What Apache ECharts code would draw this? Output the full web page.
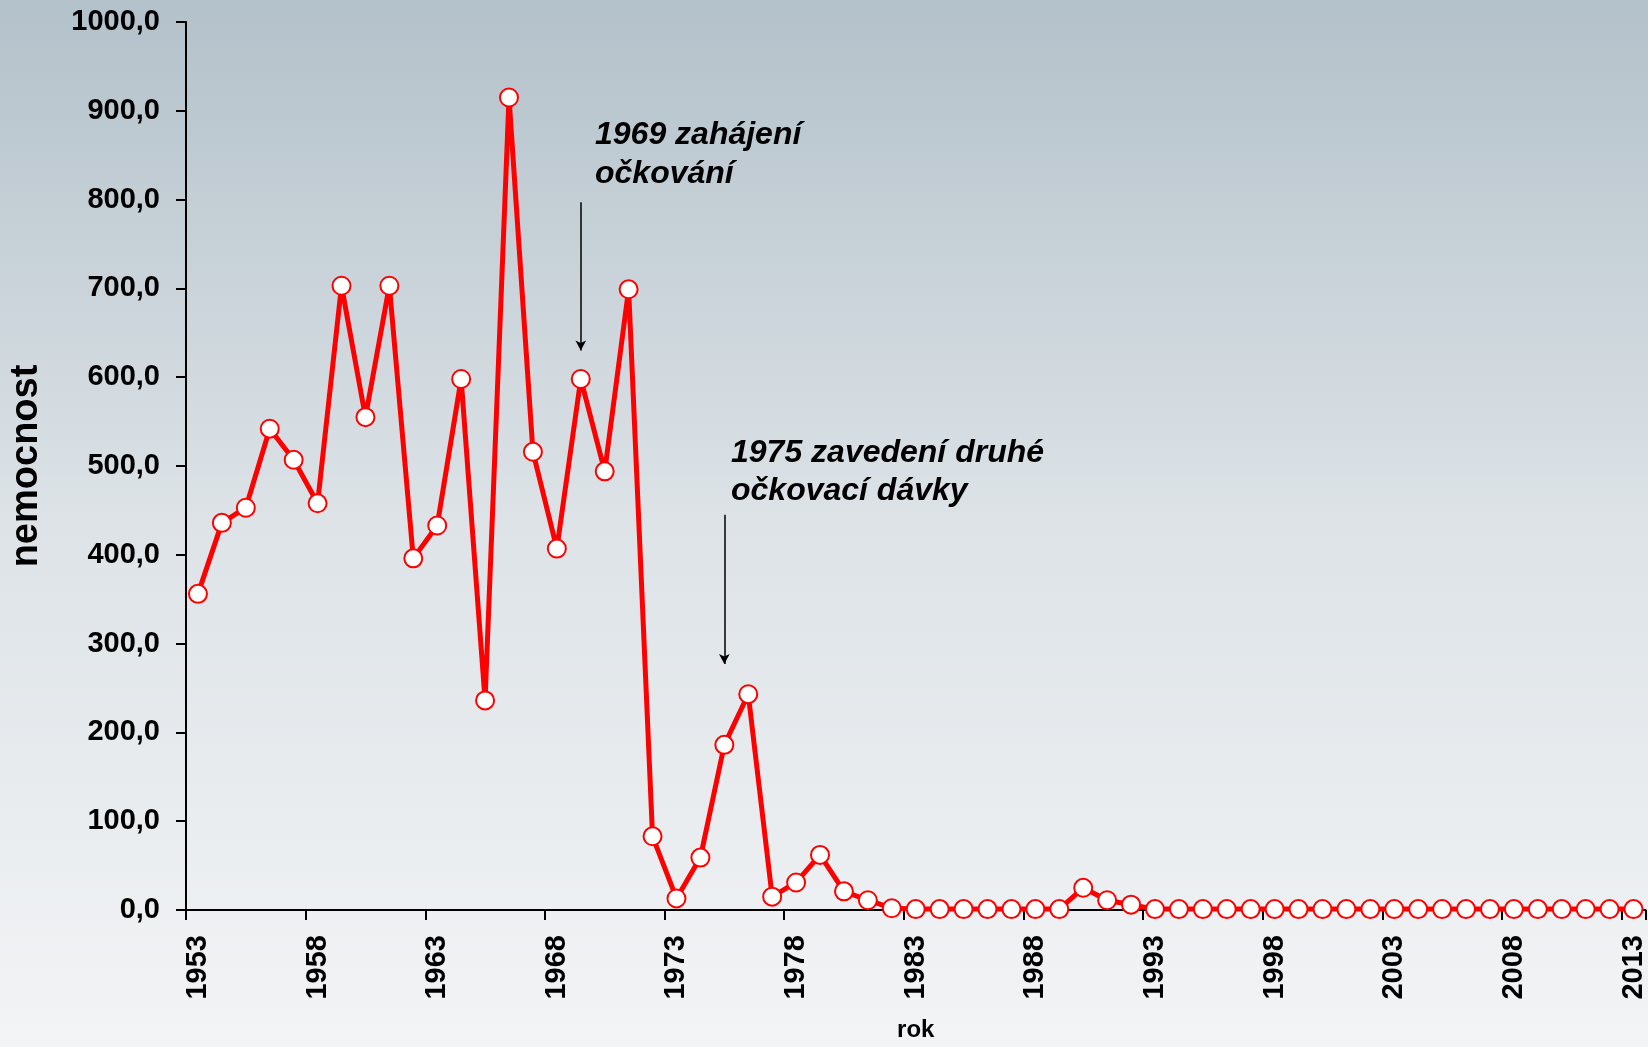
<!DOCTYPE html>
<html>
<head>
<meta charset="utf-8">
<script src="https://cdn.jsdelivr.net/npm/echarts@6/dist/echarts.min.js"></script>
<style>
html,body{margin:0;padding:0;width:1648px;height:1047px;overflow:hidden;}
#c{width:1648px;height:1047px;}
</style>
</head>
<body>
<div id="c"></div>
<script>
const years = [];
for (let y = 1953; y <= 2013; y++) years.push(String(y));

const nemocnost = [
  356, 436, 453, 542, 507, 458, 703, 555, 703, 396,
  433, 598, 236, 915, 516, 407, 598, 494, 699, 83,
  13, 59, 186, 243, 15, 31, 62, 21, 11, 2,
  1, 1, 1, 1, 1, 1, 1, 25, 11, 6,
  1, 1, 1, 1, 1, 1, 1, 1, 1, 1,
  1, 1, 1, 1, 1, 1, 1, 1, 1, 1,
  1
];

const yTicks = { min: 0, max: 1000, interval: 100 };
const annotations = [
  { year: '1969', from: 797, to: 630, lines: ['1969 zahájení', 'očkování'] },
  { year: '1975', from: 445, to: 277, lines: ['1975 zavedení druhé', 'očkovací dávky'] }
];

const FONT = "'Liberation Sans', Arial, sans-serif";
const chart = echarts.init(document.getElementById('c'), null, { renderer: 'canvas' });

const textGraphics = [];
const textPos = [
  { x: 595, y: [136, 175] },
  { x: 731, y: [454, 492] }
];
annotations.forEach((a, i) => {
  a.lines.forEach((ln, j) => {
    textGraphics.push({
      type: 'text',
      left: textPos[i].x,
      top: textPos[i].y[j] - 17,
      style: {
        text: ln,
        fill: '#000',
        font: "italic bold 32px " + FONT
      }
    });
  });
});

chart.setOption({
  animation: false,
  backgroundColor: {
    type: 'linear', x: 0, y: 0, x2: 0, y2: 1,
    colorStops: [
      { offset: 0, color: '#b3c1ca' },
      { offset: 0.5, color: '#dde3e7' },
      { offset: 1, color: '#f3f4f6' }
    ]
  },
  grid: { left: 185, right: 2, top: 22, bottom: 133, containLabel: false },
  xAxis: {
    type: 'category',
    data: years,
    boundaryGap: true,
    name: 'rok',
    nameLocation: 'middle',
    nameGap: 108,
    nameTextStyle: { fontFamily: FONT, fontWeight: 'bold', fontSize: 24, color: '#000' },
    axisLine: { lineStyle: { color: '#000', width: 2 } },
    axisTick: { show: true, interval: 4, length: 10, alignWithLabel: false, lineStyle: { color: '#000', width: 2 } },
    axisLabel: {
      interval: 4, rotate: 90, margin: 25,
      fontFamily: FONT, fontWeight: 'bold', fontSize: 29, color: '#000'
    },
    splitLine: { show: false }
  },
  yAxis: {
    type: 'value',
    min: yTicks.min, max: yTicks.max, interval: yTicks.interval,
    name: 'nemocnost',
    nameLocation: 'middle',
    nameRotate: 90,
    nameGap: 140,
    nameTextStyle: { fontFamily: FONT, fontWeight: 'bold', fontSize: 38, color: '#000' },
    axisLine: { show: true, lineStyle: { color: '#000', width: 2 } },
    axisTick: { show: true, length: 10, lineStyle: { color: '#000', width: 2 } },
    axisLabel: {
      margin: 26,
      fontFamily: FONT, fontWeight: 'bold', fontSize: 29, color: '#000',
      formatter: v => v.toFixed(1).replace('.', ',')
    },
    splitLine: { show: false }
  },
  series: [{
    type: 'line',
    data: nemocnost,
    showAllSymbol: true,
    symbol: 'circle',
    symbolSize: 18,
    lineStyle: { color: '#ff0000', width: 5 },
    itemStyle: { color: '#ffffff', borderColor: '#ff0000', borderWidth: 2 },
    z: 3,
    markLine: {
      silent: true,
      symbol: ['none', 'arrow'],
      symbolSize: [8, 10],
      label: { show: false },
      lineStyle: { color: '#000', width: 1.5, type: 'solid' },
      data: annotations.map(a => [
        { coord: [a.year, a.from] },
        { coord: [a.year, a.to] }
      ])
    }
  }],
  graphic: textGraphics
});
</script>
</body>
</html>
